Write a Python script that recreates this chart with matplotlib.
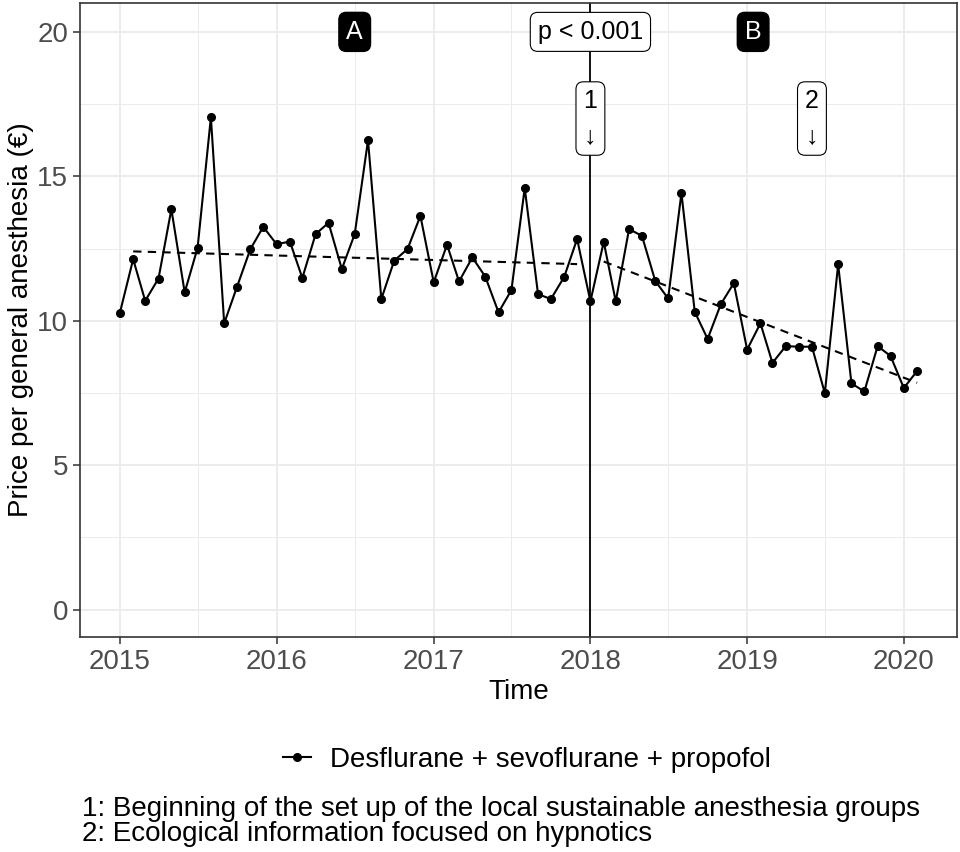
import numpy as np
import pandas as pd
import matplotlib
matplotlib.use("Agg")
import matplotlib.pyplot as plt
import matplotlib.dates as mdates
from matplotlib.lines import Line2D

plt.rcParams['font.family'] = ['Liberation Sans', 'DejaVu Sans']

# monthly price per general anesthesia, Jan 2015 - Feb 2020
months = pd.date_range('2015-01-01', periods=62, freq='MS')
price = [10.27, 12.13, 10.69, 11.46, 13.86, 10.98, 12.52, 17.04, 9.91, 11.18, 12.48, 13.25,
         12.65, 12.74, 11.48, 13.00, 13.39, 11.79, 13.00, 16.25, 10.75, 12.08, 12.48, 13.63,
         11.33, 12.63, 11.36, 12.19, 11.53, 10.29, 11.06, 14.59, 10.92, 10.75, 11.52, 12.83,
         10.67, 12.73, 10.67, 13.17, 12.94, 11.38, 10.77, 14.42, 10.31, 9.37, 10.58, 11.30,
         9.00, 9.91, 8.54, 9.12, 9.10, 9.10, 7.49, 11.95, 7.83, 7.55, 9.12, 8.78,
         7.67, 8.26]

# segmented trend (before / after intervention)
trend1_x = pd.to_datetime(['2015-02-01', '2017-12-01'])
trend1_y = [12.40, 11.96]
trend2_x = pd.to_datetime(['2018-02-01', '2020-02-01'])
trend2_y = [12.05, 7.85]

break_date = pd.Timestamp('2018-01-01')
period_labels = ['A', 'B']
period_x = pd.to_datetime(['2016-07-01', '2019-01-15'])
event_labels = ['1\n↓', '2\n↓']
event_x = pd.to_datetime(['2018-01-01', '2019-06-01'])

fig = plt.figure(figsize=(9.6, 8.52), dpi=100)
ax = fig.add_axes([80 / 960, 1 - 637 / 852, 877 / 960, 634 / 852])

ax.plot(months, price, color='black', lw=1.5, marker='o', ms=5.5, zorder=3)
ax.plot(trend1_x, trend1_y, color='black', lw=1.5, ls=(0, (4, 3)), zorder=2)
ax.plot(trend2_x, trend2_y, color='black', lw=1.5, ls=(0, (4, 3)), zorder=2)
ax.axvline(break_date, color='black', lw=1.3, zorder=2)

# limits with ggplot-like expansion
x0 = mdates.date2num(months[0])
x1 = mdates.date2num(months[-1])
pad = (x1 - x0) * 0.05
ax.set_xlim(x0 - pad, x1 + pad)
ax.set_ylim(-0.95, 21)

ax.xaxis.set_major_locator(mdates.YearLocator())
ax.xaxis.set_major_formatter(mdates.DateFormatter('%Y'))
ax.xaxis.set_minor_locator(mdates.MonthLocator(bymonth=7))
ax.set_yticks([0, 5, 10, 15, 20])
ax.set_yticks([2.5, 7.5, 12.5, 17.5], minor=True)

ax.grid(which='major', color='#EBEBEB', lw=1.3, zorder=0)
ax.grid(which='minor', color='#EBEBEB', lw=0.7, zorder=0)
ax.set_axisbelow(True)
for s in ax.spines.values():
    s.set_color('#333333')
    s.set_linewidth(1.2)
ax.tick_params(which='major', length=5, width=1.1, color='#333333',
               labelsize=20, labelcolor='#4D4D4D')
ax.tick_params(which='minor', length=0)

ax.set_xlabel('Time', fontsize=20, labelpad=3)
ax.set_ylabel('Price per general anesthesia (€)', fontsize=20, labelpad=2)

# labels on the panel
for lab, xd in zip(period_labels, period_x):
    ax.text(xd, 20, lab, ha='center', va='center', fontsize=18, color='white',
            bbox=dict(boxstyle='round,pad=0.3,rounding_size=0.3', fc='black', ec='black'),
            zorder=5)
ax.text(break_date, 20, 'p < 0.001', ha='center', va='center', fontsize=18,
        bbox=dict(boxstyle='round,pad=0.3,rounding_size=0.3', fc='white', ec='black', lw=0.8),
        zorder=5)
for lab, xd in zip(event_labels, event_x):
    ax.text(xd, 17, lab, ha='center', va='center', fontsize=18, linespacing=1.55,
            bbox=dict(boxstyle='round,pad=0.3,rounding_size=0.3', fc='white', ec='black', lw=0.8),
            zorder=5)

handle = Line2D([], [], color='black', lw=1.5, marker='o', ms=5.5)
fig.legend([handle], ['Desflurane + sevoflurane + propofol'], loc='center',
           bbox_to_anchor=(0.549, 1 - 760 / 852), frameon=False, fontsize=20,
           handlelength=1.0, handletextpad=0.7)

fig.text(82 / 960, 1 - 809 / 852,
         '1: Beginning of the set up of the local sustainable anesthesia groups',
         fontsize=20, va='center', ha='left')
fig.text(82 / 960, 1 - 834 / 852,
         '2: Ecological information focused on hypnotics',
         fontsize=20, va='center', ha='left')

fig.savefig('out.png', dpi=100)
